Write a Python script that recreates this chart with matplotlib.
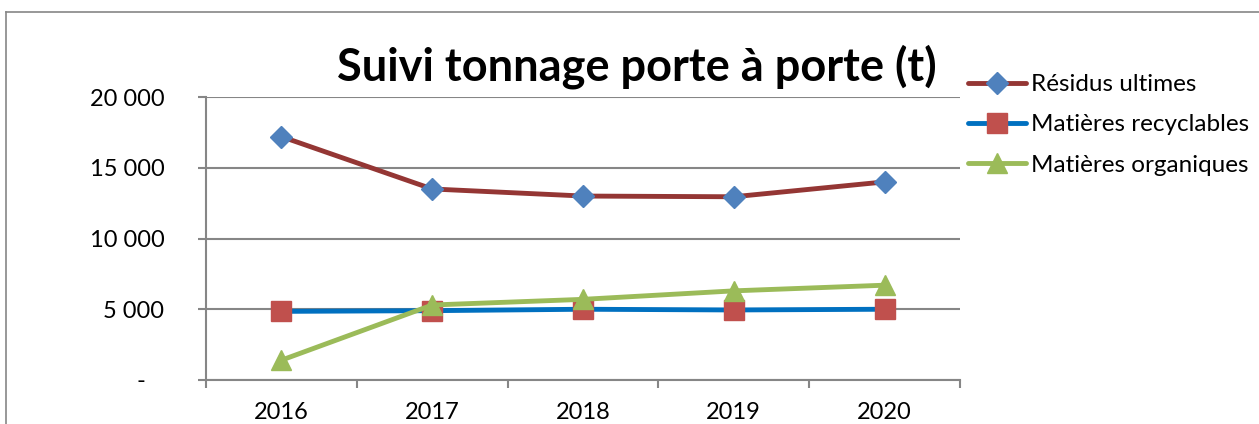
import matplotlib
matplotlib.use("Agg")
import matplotlib.pyplot as plt
from matplotlib.lines import Line2D

annees = ["2016", "2017", "2018", "2019", "2020"]
residus_ultimes = [17200, 13500, 13000, 12950, 14000]
matieres_recyclables = [4850, 4900, 5000, 4950, 5000]
matieres_organiques = [1400, 5300, 5700, 6300, 6700]
graduations = [0, 5000, 10000, 15000, 20000]
etiquettes_y = ["-   ", "5 000", "10 000", "15 000", "20 000"]

plt.rcParams["font.family"] = ["Lato", "DejaVu Sans"]
gris = "#868686"

fig = plt.figure(figsize=(12.59, 4.24), dpi=100)
ax = fig.add_axes([206 / 1259, 1 - 380 / 424, 754 / 1259, 283 / 424])

# cadre du graphique (haut et gauche visibles)
fig.add_artist(Line2D([6 / 1259, 6 / 1259], [0, 1 - 12 / 424], color=gris, lw=1.2))
fig.add_artist(Line2D([6 / 1259, 1], [1 - 12 / 424, 1 - 12 / 424], color=gris, lw=1.2))

x = range(len(annees))
series = [
    ("Résidus ultimes", residus_ultimes, "#943634", "D", "#4F81BD", 11),
    ("Matières recyclables", matieres_recyclables, "#0070C0", "s", "#C0504D", 14),
    ("Matières organiques", matieres_organiques, "#9BBB59", "^", "#9BBB59", 14),
]
for nom, valeurs, couleur, marqueur, couleur_m, taille in series:
    ax.plot(x, valeurs, color=couleur, lw=3.5, marker=marqueur, ms=taille,
            markerfacecolor=couleur_m, markeredgecolor=couleur_m, label=nom,
            solid_capstyle="round", zorder=3)

ax.set_xlim(-0.5, len(annees) - 0.5)
ax.set_ylim(0, 20000)
ax.set_yticks(graduations)
ax.set_yticklabels(etiquettes_y)
ax.set_xticks(list(x))
ax.set_xticklabels(annees)
ax.set_xticks([i - 0.5 for i in range(len(annees) + 1)], minor=True)
ax.tick_params(axis="x", which="major", length=0, pad=16, labelsize=17)
ax.tick_params(axis="x", which="minor", length=6, width=1.5, color=gris, direction="out")
ax.tick_params(axis="y", length=6, width=1.5, color=gris, pad=24, labelsize=17)
ax.yaxis.grid(True, color=gris, lw=1.5)
ax.set_axisbelow(True)
for cote in ["top", "right"]:
    ax.spines[cote].set_visible(False)
for cote in ["left", "bottom"]:
    ax.spines[cote].set_color(gris)
    ax.spines[cote].set_linewidth(1.5)

fig.text(637 / 1259, 1 - 67 / 424, "Suivi tonnage porte à porte (t)", ha="center", va="center",
         fontsize=32.5, fontweight="bold")

leg = fig.legend(loc="upper left", bbox_to_anchor=(968 / 1259, 1 - 74 / 424), frameon=False,
                 fontsize=17.5, handlelength=2.4, handletextpad=0.2, labelspacing=0.8,
                 borderaxespad=0, borderpad=0)

fig.savefig("out.png", dpi=100)
